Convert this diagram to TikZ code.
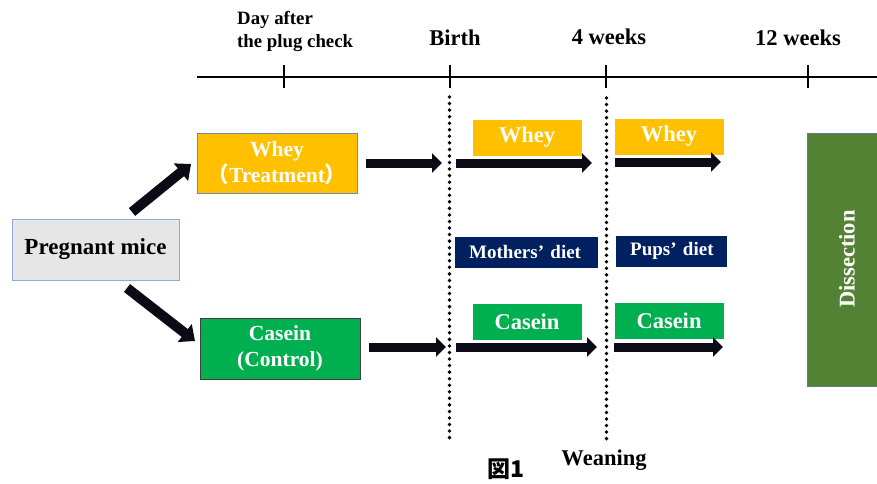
\documentclass[tikz,border=0pt]{standalone}
\usepackage{fontspec}
\setmainfont{Liberation Serif}
\newfontfamily\cjk{Noto Sans CJK JP}
\usetikzlibrary{arrows.meta}
\definecolor{wheyc}{HTML}{FFC000}
\definecolor{caseinc}{HTML}{00B050}
\definecolor{navyc}{HTML}{002060}
\definecolor{dissc}{HTML}{548235}
\definecolor{greyc}{HTML}{E7E6E6}
\definecolor{blueedge}{HTML}{8FAADC}
\definecolor{arrowc}{HTML}{0B0B16}
\begin{document}
\begin{tikzpicture}[x=1pt,y=-1pt,
  every node/.style={font=\bfseries},
  lbl/.style={font=\fontsize{22.5}{26}\selectfont\bfseries, inner sep=0pt},
  smalllbl/.style={font=\fontsize{18.8}{23}\selectfont\bfseries, inner sep=0pt},
  box/.style={draw, line width=0.8pt, text=white, align=center,
              font=\fontsize{21.5}{26}\selectfont\bfseries, inner sep=0pt},
  sbox/.style={box, minimum width=108pt, minimum height=35pt,
              font=\fontsize{22.5}{26}\selectfont\bfseries},
  dietbox/.style={fill=navyc, draw=navyc, text=white, anchor=west,
              font=\fontsize{19}{22}\selectfont\bfseries, inner sep=0pt},
  bigarrow/.style={draw=arrowc, line width=9pt, -{Triangle[length=10pt,width=19pt]}},
  diagarrow/.style={draw=arrowc, line width=10pt, -{Triangle[length=13pt,width=22pt]}},
  tl/.style={line width=2.5pt},
  dotmark/.style={fill=black}
]
\useasboundingbox (0,0) rectangle (877,483);

% timeline
\coordinate (tlL) at (197,77);
\coordinate (tlR) at (877,77);
\draw[tl] (tlL) -- (tlR);
\foreach \x/\n in {284/t1,450/t2,606/t3,808/t4}{
  \coordinate (\n a) at (\x,65);
  \coordinate (\n b) at (\x,88);
  \draw[tl] (\n a) -- (\n b);
}
\node[smalllbl, anchor=north west, align=left] (dap) at (237,11) {Day after\\the plug check};
\node[lbl, anchor=base] (birth) at (455,45) {Birth};
\node[lbl, anchor=base] (w4) at (609,44) {4 weeks};
\node[lbl, anchor=base] (w12) at (798,45) {12 weeks};

% dotted lines
\foreach \i in {0,...,52}{
  \fill[dotmark] (449.5,97+6.55*\i) circle (1.9pt);
  \fill[dotmark] (606.5,98+6.55*\i) circle (1.9pt);
}

% main boxes
\node[box, fill=greyc, draw=blueedge, text=black, minimum width=167pt, minimum height=61pt,
      font=\fontsize{23}{26}\selectfont\bfseries] (pm) at (95.5,249.5) {Pregnant mice};
\node[box, fill=wheyc, draw=blueedge!80!black, minimum width=160pt, minimum height=60pt] (wt) at (277,163)
  {Whey\\{\cjk （}Treatment{\cjk ）}};
\node[box, fill=caseinc, draw=black!75, minimum width=160pt, minimum height=61pt] (cc) at (280,348.5)
  {Casein\\(Control)};

% diagonal arrows
\coordinate (ua) at (132,212);
\coordinate (ub) at (191,164);
\coordinate (la) at (127,288);
\coordinate (lb) at (195,341);
\draw[diagarrow] (ua) -- (ub);
\draw[diagarrow] (la) -- (lb);

% small boxes
\node[sbox, fill=wheyc, draw=wheyc] (wy1) at (527,137.5) {Whey};
\node[sbox, fill=wheyc, draw=wheyc] (wy2) at (669,136.5) {Whey};
\node[sbox, fill=caseinc, draw=caseinc] (cs1) at (527,321.5) {Casein};
\node[sbox, fill=caseinc, draw=caseinc] (cs2) at (669,320.5) {Casein};

\node[dietbox, minimum width=142pt, minimum height=30pt, text width=128pt, align=left] (md) at (455,252)
  {\hspace*{7pt}Mothers’ diet};
\node[dietbox, minimum width=110pt, minimum height=30pt, text width=96pt, align=left] (pd) at (616,251)
  {\hspace*{7pt}Pups’ diet};

% horizontal arrows
\coordinate (h1a) at (366,163); \coordinate (h1b) at (442,163);
\coordinate (h2a) at (456,163); \coordinate (h2b) at (592,163);
\coordinate (h3a) at (615,162); \coordinate (h3b) at (721,162);
\coordinate (g1a) at (369,347); \coordinate (g1b) at (446,347);
\coordinate (g2a) at (456,347); \coordinate (g2b) at (597,347);
\coordinate (g3a) at (614,347); \coordinate (g3b) at (723,347);
\draw[bigarrow] (h1a) -- (h1b);
\draw[bigarrow] (h2a) -- (h2b);
\draw[bigarrow] (h3a) -- (h3b);
\draw[bigarrow] (g1a) -- (g1b);
\draw[bigarrow] (g2a) -- (g2b);
\draw[bigarrow] (g3a) -- (g3b);

% dissection
\node[box, fill=dissc, draw=blueedge!70!black, minimum width=70pt, minimum height=253pt] (dis) at (842,259.5) {};
\node[lbl, text=white, rotate=90] (distxt) at (847,259) {Dissection};

% bottom labels
\node[lbl, anchor=base] (wean) at (604,465) {Weaning};
\node[inner sep=0pt, anchor=base, font=\cjk\fontsize{23}{26}\selectfont\bfseries] (fig) at (506,477) {図1};
\end{tikzpicture}
\end{document}
